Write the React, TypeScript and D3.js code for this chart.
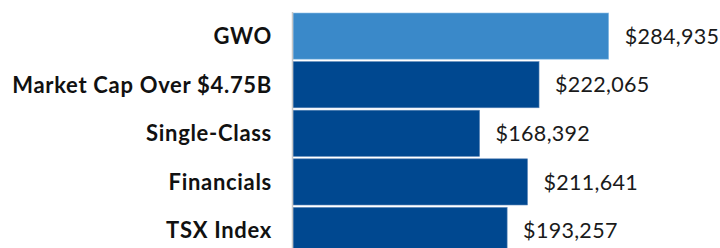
import * as d3 from "d3";
import { useEffect, useRef } from "react";

const categories = ["GWO", "Market Cap Over $4.75B", "Single-Class", "Financials", "TSX Index"];
const values = [284935, 222065, 168392, 211641, 193257];
const highlight = "GWO";

const width = 720,
  height = 248;

const App = () => {
  const svgRef = useRef<SVGSVGElement | null>(null);

  useEffect(() => {
    const svg = d3.select(svgRef.current);
    svg.selectAll("*").remove();

    const x = d3.scaleLinear().domain([0, 284935]).range([293, 608.7]);
    const y = d3.scaleBand().domain(categories).range([13, 253.6]).paddingInner(0.05).paddingOuter(0);

    const rows = svg
      .selectAll("g.row")
      .data(categories)
      .join("g")
      .attr("class", "row");

    rows
      .append("rect")
      .attr("x", x(0))
      .attr("y", (d) => y(d)!)
      .attr("width", (d, i) => x(values[i]) - x(0))
      .attr("height", y.bandwidth())
      .attr("fill", (d) => (d === highlight ? "#3a89c9" : "#004890"))
      .attr("stroke", (d) => (d === highlight ? "#8fc0e6" : "#5b86b8"))
      .attr("stroke-width", 0.6);

    rows
      .append("text")
      .attr("x", 272)
      .attr("y", (d) => y(d)! + y.bandwidth() / 2)
      .attr("dy", "0.36em")
      .attr("text-anchor", "end")
      .attr("font-family", "Lato")
      .attr("font-weight", "bold")
      .attr("font-size", 22)
      .attr("letter-spacing", 0.7)
      .attr("fill", "#111")
      .text((d) => d);

    rows
      .append("text")
      .attr("x", (d, i) => x(values[i]) + 16)
      .attr("y", (d) => y(d)! + y.bandwidth() / 2)
      .attr("dy", "0.36em")
      .attr("font-family", "Lato")
      .attr("font-size", 21.5)
      .attr("letter-spacing", 0.3)
      .attr("fill", "#1a1a1a")
      .text((d, i) => d3.format("$,")(values[i]));

    // axis line
    svg
      .append("line")
      .attr("x1", 292.5)
      .attr("x2", 292.5)
      .attr("y1", 12)
      .attr("y2", height)
      .attr("stroke", "#c8c8c8")
      .attr("stroke-width", 1.5);
  }, []);

  return (
    <svg
      ref={svgRef}
      width={width}
      height={height}
      style={{ position: "absolute", left: 0, top: 0, background: "#fff" }}
    />
  );
};

export default App;
